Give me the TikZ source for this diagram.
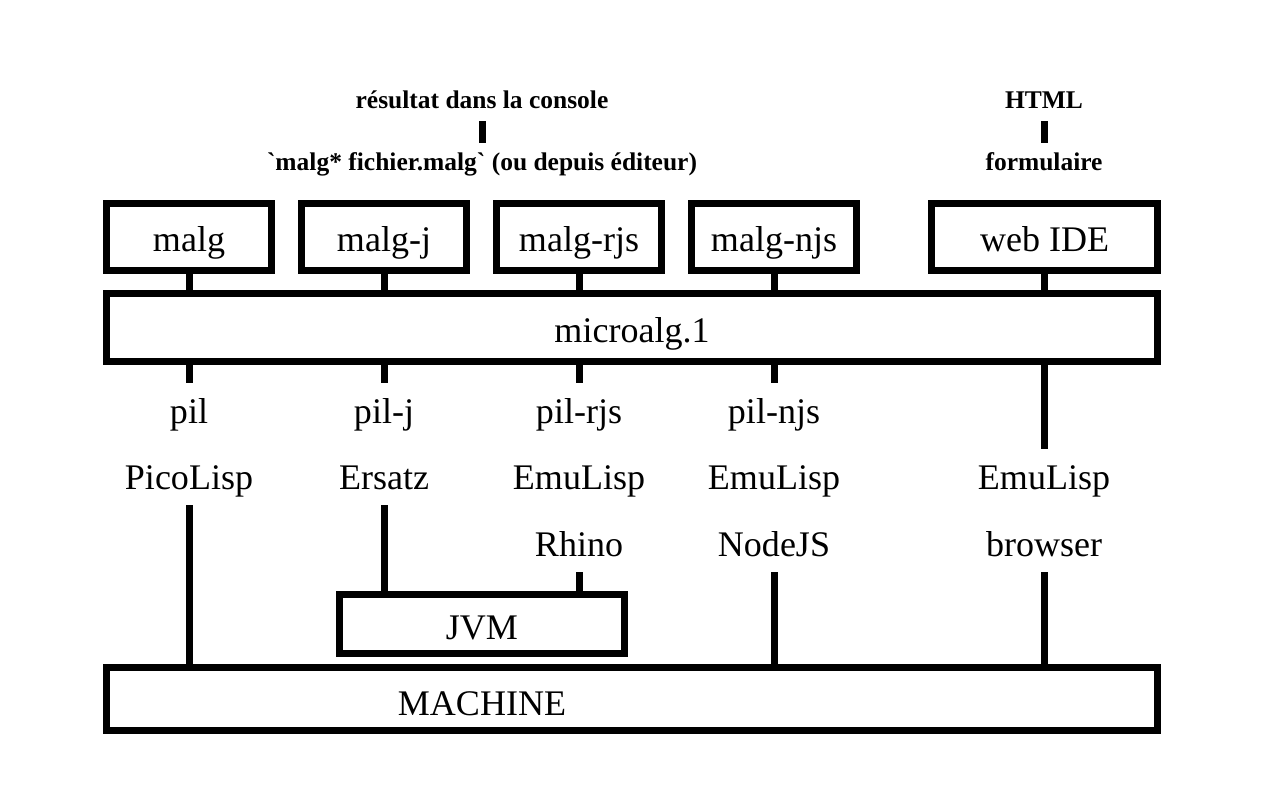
\documentclass[tikz,border=0pt]{standalone}
\usepackage{fontspec}
\setmainfont{Liberation Serif}
\usetikzlibrary{positioning,calc}

\tikzset{
  box/.style={draw, line width=0.14cm, inner sep=0pt, text height=0.7cm, text depth=0.1cm,
    minimum height=1.34cm, font=\fontsize{20.5}{24}\selectfont},
  lbl/.style={anchor=base, inner sep=0pt, text height=0.8cm, text depth=0.32cm,
    font=\fontsize{20.5}{24}\selectfont},
  toplbl/.style={anchor=base, inner sep=0pt, text height=0.56cm, text depth=0.24cm,
    font=\fontsize{14.5}{17}\selectfont\bfseries},
  wire/.style={line width=0.14cm}
}

\begin{document}
\begin{tikzpicture}[x=0.02cm, y=-0.02cm]
    \useasboundingbox (0,0) rectangle (1280,800);

    % Front ends
    \node[box, minimum width=3.3cm] (malg) at (189,237) {malg};
    \node[box, minimum width=3.3cm] (malgj) at (384,237) {malg-j};
    \node[box, minimum width=3.3cm] (malgrjs) at (579,237) {malg-rjs};
    \node[box, minimum width=3.3cm] (malgnjs) at (774,237) {malg-njs};
    \node[box, minimum width=4.52cm] (webide) at (1044.5,237) {web IDE};
    \node[box, minimum width=21.02cm, minimum height=1.36cm] (microalg) at (632,327.5) {microalg.1};

    % Console and HTML
    \node[toplbl] (console) at (482,109) {résultat dans la console};
    \node[toplbl] (cmd) at (482,171) {\textasciigrave malg* fichier.malg\textasciigrave{} (ou depuis éditeur)};
    \node[toplbl] (html) at (1044,109) {HTML};
    \node[toplbl] (form) at (1044,171) {formulaire};
    \draw[wire] (console.south) -- (cmd.north);
    \draw[wire] (html.south) -- (form.north);

    % Interpreters
    \node[lbl] (pil) at (189,423) {pil};
    \node[lbl] (pilj) at (384,423) {pil-j};
    \node[lbl] (pilrjs) at (579,423) {pil-rjs};
    \node[lbl] (pilnjs) at (774,423) {pil-njs};
    \node[lbl] (picolisp) at (189,489) {PicoLisp};
    \node[lbl] (ersatz) at (384,489) {Ersatz};
    \node[lbl] (emurjs) at (579,489) {EmuLisp};
    \node[lbl] (emunjs) at (774,489) {EmuLisp};
    \node[lbl] (emuweb) at (1044,489) {EmuLisp};
    \node[lbl] (rhino) at (579,556) {Rhino};
    \node[lbl] (nodejs) at (774,556) {NodeJS};
    \node[lbl] (browser) at (1044,556) {browser};

    % Platforms
    \node[box, minimum width=5.7cm, minimum height=1.18cm] (jvm) at (482,624) {JVM};
    \node[box, minimum width=21.02cm, minimum height=1.26cm] (machine) at (632,699) {};
    \node[lbl] (machinetxt) at (482,715) {MACHINE};

    % Links
    \draw[wire] (malg.south) -- (malg |- microalg.north);
    \draw[wire] (malgj.south) -- (malgj |- microalg.north);
    \draw[wire] (malgrjs.south) -- (malgrjs |- microalg.north);
    \draw[wire] (malgnjs.south) -- (malgnjs |- microalg.north);
    \draw[wire] (webide.south) -- (webide |- microalg.north);
    \draw[wire] (pil |- microalg.south) -- (pil.north);
    \draw[wire] (pilj |- microalg.south) -- (pilj.north);
    \draw[wire] (pilrjs |- microalg.south) -- (pilrjs.north);
    \draw[wire] (pilnjs |- microalg.south) -- (pilnjs.north);
    \draw[wire] (emuweb |- microalg.south) -- (emuweb.north);
    \draw[wire] (picolisp.south) -- (picolisp |- machine.north);
    \draw[wire] (ersatz.south) -- (ersatz |- jvm.north);
    \draw[wire] (rhino.south) -- (rhino |- jvm.north);
    \draw[wire] (nodejs.south) -- (nodejs |- machine.north);
    \draw[wire] (browser.south) -- (browser |- machine.north);
\end{tikzpicture}
\end{document}
